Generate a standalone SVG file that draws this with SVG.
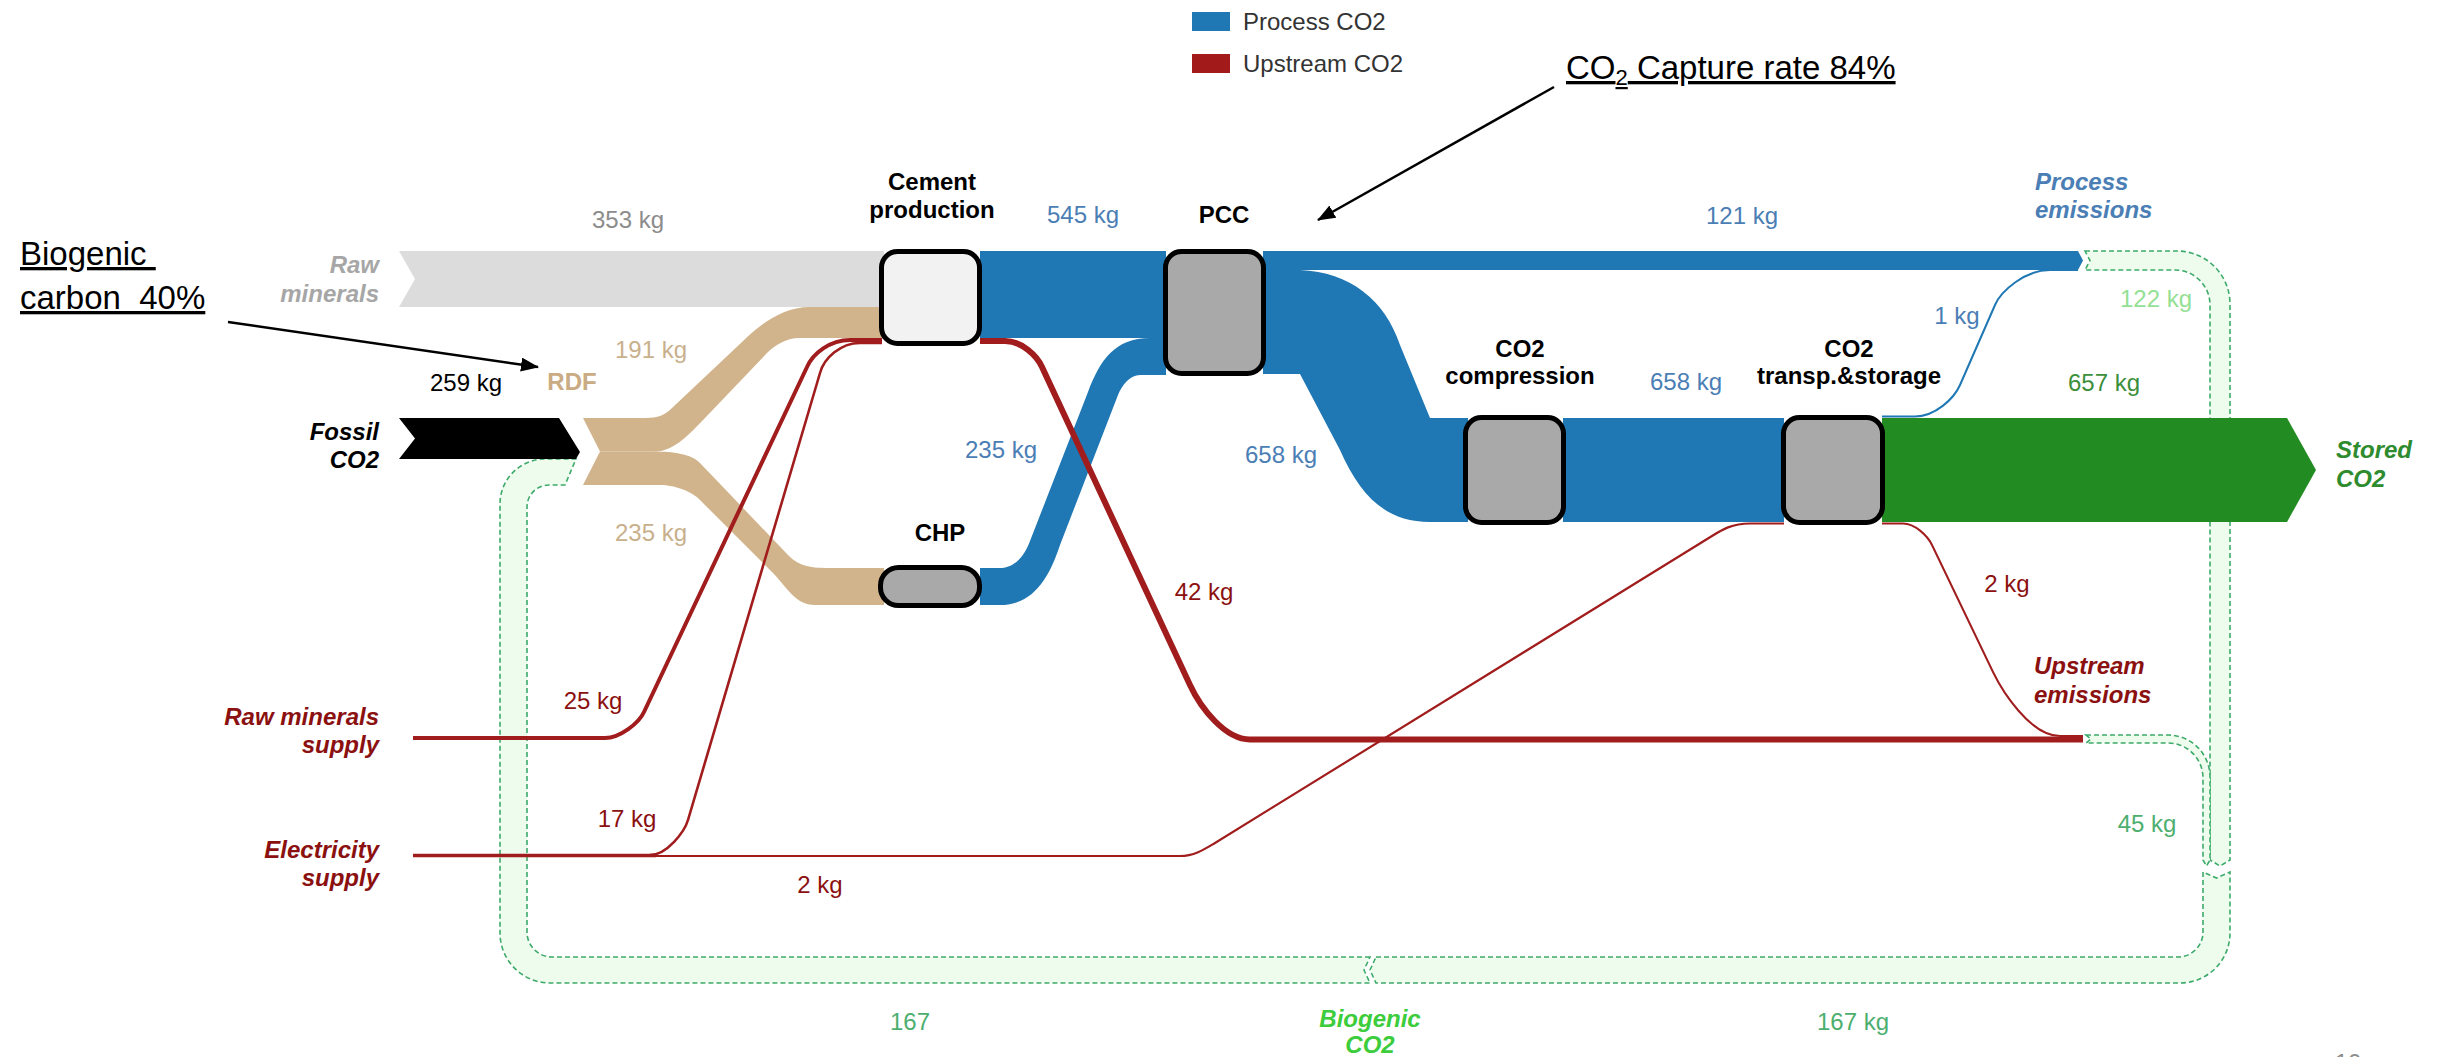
<svg xmlns="http://www.w3.org/2000/svg" width="2442" height="1057" viewBox="0 0 2442 1057">
<defs>
<style>
text{font-family:"Liberation Sans",Arial,sans-serif;font-size:24px}
.b{font-weight:bold}
.i{font-weight:bold;font-style:italic}
.m{text-anchor:middle}
.e{text-anchor:end}
.node{stroke:#000;stroke-width:5}
.bio{fill:#eefcee;stroke:#3daa6a;stroke-width:1.6;stroke-dasharray:5 3}
.red{fill:none;stroke:#a11d1d}
.blue{fill:#1f77b4}
.tan{fill:#d2b48c}
.ann{font-family:"Liberation Sans",Arial,sans-serif;font-size:33px;text-decoration:underline;white-space:pre}
.cb{fill:#4a7eb5}
.cr{fill:#8b1010}
.cg{fill:#4daf6f}
</style>
<marker id="ah" viewBox="0 0 18 14" refX="17" refY="7" markerWidth="18" markerHeight="14" markerUnits="userSpaceOnUse" orient="auto">
<path d="M0,0 L18,7 L0,14 Z" fill="#000"/>
</marker>
</defs>
<rect width="2442" height="1057" fill="#fff"/>

<g id="connectors">
<!-- biogenic loop -->
<path class="bio" d="M1370,957 L552,957 A25,25 0 0 1 527,932 L527,507 A22,22 0 0 1 549,485 L565,485 L576,459 L545,459 A45,45 0 0 0 500,504 L500,933 A50,50 0 0 0 550,983 L1370,983 L1364,970 Z"/>
<path class="bio" d="M1376,957 L2178,957 A25,25 0 0 0 2203,932 L2203,872 L2216.5,878 L2230,872 L2230,933 A50,50 0 0 1 2180,983 L1376,983 L1370,970 Z"/>
<path class="bio" d="M2085,251 L2177,251 A53,53 0 0 1 2230,304 L2230,860 L2220,866 L2210,860 L2210,305 A35,35 0 0 0 2175,270 L2085,270 L2090,260.5 Z"/>
<path class="bio" d="M2086,735 L2168,735 A42,42 0 0 1 2210,777 L2210,860 L2206.5,866 L2203,860 L2203,778 A35,35 0 0 0 2168,743 L2086,743 L2091,739 Z"/>
<!-- raw minerals -->
<path d="M399,251 L884,251 L884,307 L399,307 L415,279 Z" fill="#dcdcdc"/>
<!-- fossil -->
<path d="M399,418 L559,418 L580,452 L576,459 L399,459 L415,438.5 Z" fill="#000"/>
<!-- RDF -->
<path class="tan" d="M583,418 L645,418 C658,418 665,415 672,408 L742,342 C756.5,328 780,307 810,307 L884,307 L884,338 L800,338 C785,338 774,346 767,353 L705,418 C691,432 675,451.5 655,451.5 L600,451.5 Z"/>
<path class="tan" d="M600,451.5 L655,451.5 C672,451.5 692,454 700,463 L788,555 C798,565 808,568 828,568 L884,568 L884,605 L815,605 C795,605 787,587 773,573 L700,500 C693,492 675,485 660,485 L583,485 Z"/>
<!-- process CO2 -->
<rect class="blue" x="980" y="251" width="186" height="87"/>
<path class="blue" d="M980,568 L1000,568 C1015,568 1025,555 1030,541 L1088,392 C1100,360 1115,338 1150,338 L1166,338 L1166,375 L1140,375 C1130,375 1122,385 1118,395 L1060,545 C1050,575 1035,605 1000,605 L980,605 Z"/>
<path class="blue" d="M1263,251 L2078,251 L2083,260.5 L2078,270 L1263,270 Z"/>
<path class="blue" d="M1263,270 L1300,270 C1350,272 1385,300 1400,345 L1430,418 L1468,418 L1468,522 L1430,522 C1385,522 1360,495 1340,450 L1300,374 L1263,374 Z"/>
<rect class="blue" x="1563" y="418" width="221" height="104"/>
<path d="M1882,416.5 L1915,416.5 C1935,416.5 1954,398.7 1960,385 L1995,305 C2001,291 2025,270 2050,270 L2078,270" fill="none" stroke="#1f77b4" stroke-width="2"/>
<!-- stored -->
<path d="M1882,418 L2287,418 L2316,470 L2287,522 L1882,522 Z" fill="#228b22"/>
<!-- upstream CO2 -->
<path class="red" stroke-width="4" d="M413,738 L605,738 C620,738 639,723 644,712 L807,367 C813,353.4 830,340 850,340 L882,340"/>
<path class="red" stroke-width="3.5" d="M413,855.5 L656,855.5"/>
<path class="red" stroke-width="2.6" d="M650,855 C667,855 684.6,831.5 688,820 L820,373 C824,358.6 840,343 860,343 L882,343"/>
<path class="red" stroke-width="2.2" d="M650,856 L1180,856 C1195,856 1206.5,848 1215,843 L1712,536 C1722,529.7 1732,523.5 1750,523.5 L1784,523.5"/>
<path class="red" stroke-width="6" d="M980,341 L1005,341 C1022,341 1037,356 1042,367 L1190,685 C1200.5,707.7 1225,739.5 1250,739.5 L2083,739.5"/>
<path class="red" stroke-width="2" d="M1882,523.5 L1903,523.5 C1915,523.5 1927.7,536 1932,545 L1993,672 C2001.7,690 2030,736 2060,736 L2083,736"/>
</g>

<g id="node-cement"><rect class="node" x="881.5" y="251.5" width="98" height="92" rx="16" fill="#f2f2f2"/></g>
<g id="node-pcc"><rect class="node" x="1165.5" y="251.5" width="98" height="122" rx="16" fill="#a9a9a9"/></g>
<g id="node-chp"><rect class="node" x="880.5" y="567.5" width="99" height="38" rx="18" fill="#a9a9a9"/></g>
<g id="node-compression"><rect class="node" x="1465.5" y="417.5" width="98" height="105" rx="16" fill="#a9a9a9"/></g>
<g id="node-transport"><rect class="node" x="1783.5" y="417.5" width="99" height="105" rx="16" fill="#a9a9a9"/></g>

<g id="legend">
<rect x="1192" y="12" width="38" height="19" fill="#1f77b4"/>
<text x="1243" y="30" fill="#333">Process CO2</text>
<rect x="1192" y="54" width="38" height="19" fill="#a31a1a"/>
<text x="1243" y="72" fill="#333">Upstream CO2</text>
</g>

<g id="annotations">
<text class="ann" x="20" y="265">Biogenic </text>
<text class="ann" x="20" y="309">carbon  40%</text>
<line x1="228" y1="322" x2="538" y2="367" stroke="#000" stroke-width="2.5" marker-end="url(#ah)"/>
<text class="ann" x="1566" y="79">CO<tspan font-size="22" dy="6">2</tspan><tspan dy="-6"> Capture rate 84%</tspan></text>
<line x1="1554" y1="87" x2="1318" y2="220" stroke="#000" stroke-width="2.5" marker-end="url(#ah)"/>
</g>

<g id="labels">
<text class="m" x="628" y="228" fill="#8c8c8c">353 kg</text>
<text class="i e" x="379" y="273" fill="#a6a6a6">Raw</text>
<text class="i e" x="379" y="302" fill="#a6a6a6">minerals</text>
<text class="i e" x="379" y="440" fill="#000">Fossil</text>
<text class="i e" x="379" y="468" fill="#000">CO2</text>
<text class="m" x="466" y="391" fill="#000">259 kg</text>
<text class="b m" x="572" y="390" fill="#c9ab84">RDF</text>
<text class="m" x="651" y="358" fill="#c9b08c">191 kg</text>
<text class="m" x="651" y="541" fill="#c9b08c">235 kg</text>
<text class="b m" x="932" y="190">Cement</text>
<text class="b m" x="932" y="218">production</text>
<text class="m cb" x="1083" y="223">545 kg</text>
<text class="b m" x="1224" y="223">PCC</text>
<text class="m cb" x="1742" y="224">121 kg</text>
<text class="i cb" x="2035" y="190">Process</text>
<text class="i cb" x="2035" y="218">emissions</text>
<text class="m" x="2156" y="307" fill="#94e094">122 kg</text>
<text class="m cb" x="1957" y="324">1 kg</text>
<text class="b m" x="1520" y="357">CO2</text>
<text class="b m" x="1520" y="384">compression</text>
<text class="m cb" x="1686" y="390">658 kg</text>
<text class="b m" x="1849" y="357">CO2</text>
<text class="b m" x="1849" y="384">transp.&amp;storage</text>
<text class="m" x="2104" y="391" fill="#3b8f3b">657 kg</text>
<text class="i" x="2336" y="458" fill="#2e8b2e">Stored</text>
<text class="i" x="2336" y="487" fill="#2e8b2e">CO2</text>
<text class="m cb" x="1001" y="458">235 kg</text>
<text class="m cb" x="1281" y="463">658 kg</text>
<text class="b m" x="940" y="541">CHP</text>
<text class="m cr" x="1204" y="600">42 kg</text>
<text class="m cr" x="2007" y="592">2 kg</text>
<text class="i cr" x="2034" y="674">Upstream</text>
<text class="i cr" x="2034" y="703">emissions</text>
<text class="m cr" x="593" y="709">25 kg</text>
<text class="i e cr" x="379" y="725">Raw minerals</text>
<text class="i e cr" x="379" y="753">supply</text>
<text class="m cr" x="627" y="827">17 kg</text>
<text class="i e cr" x="379" y="858">Electricity</text>
<text class="i e cr" x="379" y="886">supply</text>
<text class="m cr" x="820" y="893">2 kg</text>
<text class="m cg" x="2147" y="832">45 kg</text>
<text class="m cg" x="910" y="1030">167</text>
<text class="i m" x="1370" y="1027" fill="#3ccc3c">Biogenic</text>
<text class="i m" x="1370" y="1053" fill="#3ccc3c">CO2</text>
<text class="m cg" x="1853" y="1030">167 kg</text>
<text class="m" x="2348" y="1071" fill="#8c8c8c">10</text>
</g>
</svg>
